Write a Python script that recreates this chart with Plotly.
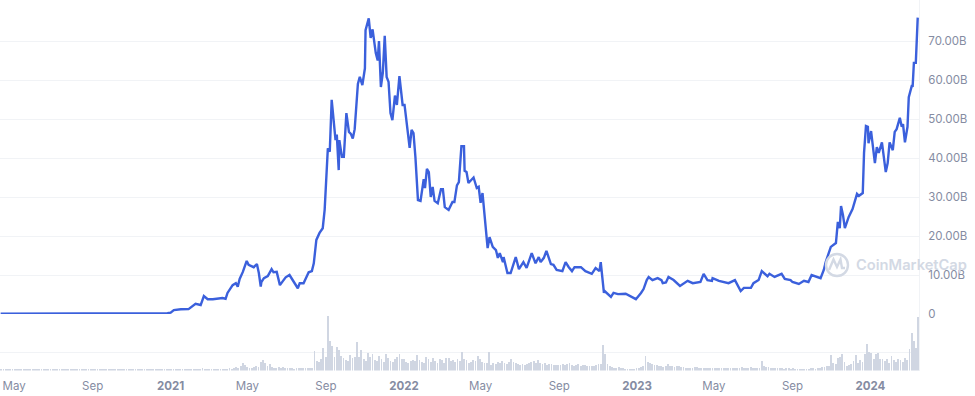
import pandas as pd
import plotly.graph_objects as go

BASE_DATE = "2021-01-01"

early_days = [-266, -220, -180, -140, -110, -80, -50, -20, -5]
early_vals = [0.10, 0.10, 0.12, 0.20, 0.22, 0.18, 0.16, 0.15, 0.18]

rise_days = [0, 5, 16, 28, 39, 47, 52, 58, 66, 81, 86, 89, 97, 102, 105, 108, 113, 119, 122, 130, 135, 138, 141, 142, 146, 152, 158, 161, 166, 171, 175, 180, 186, 192, 199, 202, 208, 216, 221, 224, 228, 233, 238, 241, 244, 246, 249]
rise_vals = [0.35, 1.0, 1.2, 1.25, 2.6, 2.3, 4.6, 3.8, 3.8, 4.1, 3.9, 5.4, 7.4, 7.9, 7.0, 9.0, 10.8, 13.6, 12.6, 12.0, 12.8, 10.5, 7.0, 8.2, 9.2, 9.7, 11.5, 10.7, 10.8, 7.4, 8.3, 9.4, 10.0, 8.3, 6.6, 7.9, 7.9, 10.7, 11.0, 13.0, 19.0, 20.8, 22.0, 26.7, 34.4, 42.5, 41.6]

peak_days = [252, 254, 258, 260, 263, 264, 268, 271, 275, 279, 282, 285, 288, 293, 296, 300, 304, 305, 310, 313, 316, 321, 324, 326, 329, 332, 335, 338, 341, 344, 347, 351, 354, 358, 363, 366, 371, 374, 377, 380, 383, 387]
peak_vals = [54.9, 51.5, 44.6, 46.0, 36.9, 44.6, 40.3, 40.3, 51.5, 46.7, 46.2, 45.0, 47.4, 59.0, 60.8, 58.7, 63.0, 72.8, 75.8, 70.8, 73.0, 66.9, 65.0, 70.0, 58.2, 61.8, 71.3, 60.8, 59.5, 51.5, 49.7, 56.0, 53.6, 61.0, 53.6, 53.6, 47.2, 42.6, 47.2, 46.4, 40.3, 29.2]

fall_days = [391, 396, 398, 401, 404, 407, 410, 413, 418, 423, 426, 429, 435, 441, 444, 448, 451, 455, 459, 460, 463, 466, 474, 479, 482, 485, 488, 491, 496, 499, 504, 509, 512, 515, 520, 521, 527, 532, 540, 545, 552, 557, 565, 571, 576, 579, 584, 588, 595, 599, 604, 613, 618, 623, 628, 632, 642, 649, 659, 665, 671, 673, 676, 678, 679]
fall_vals = [29.0, 34.6, 32.3, 37.2, 36.4, 30.0, 32.6, 29.0, 28.4, 32.0, 32.0, 27.4, 26.7, 28.7, 28.7, 33.0, 33.8, 43.0, 43.0, 36.7, 36.4, 33.6, 35.0, 32.3, 32.6, 28.5, 31.0, 25.9, 16.9, 19.7, 17.2, 16.4, 14.4, 15.6, 13.3, 14.6, 10.5, 10.5, 14.6, 11.5, 13.3, 11.8, 15.6, 13.0, 14.6, 13.3, 14.4, 16.2, 12.8, 12.6, 11.3, 11.0, 13.3, 12.0, 11.0, 12.0, 12.0, 11.0, 10.3, 11.8, 11.0, 13.3, 9.0, 5.4, 5.9]

low_days = [689, 693, 700, 712, 720, 728, 736, 740, 745, 748, 754, 762, 768, 770, 775, 779, 787, 797, 809, 817, 829, 834, 840, 847, 848, 858, 873, 883, 892, 897, 908, 912, 920, 925, 934, 937, 945, 956, 961, 970, 973, 983, 991, 998, 1003, 1013, 1017, 1022]
low_vals = [4.4, 5.4, 5.1, 5.2, 4.4, 3.8, 5.4, 6.4, 8.7, 9.5, 8.7, 9.2, 8.7, 7.9, 8.1, 9.5, 8.7, 7.2, 8.5, 7.9, 8.2, 10.3, 8.7, 8.5, 9.2, 8.5, 7.9, 8.7, 5.9, 6.7, 6.7, 7.9, 8.7, 11.0, 9.7, 10.3, 9.5, 10.3, 9.0, 8.7, 8.2, 7.7, 8.5, 8.2, 10.0, 9.5, 9.2, 11.3]

recent_days = [1025, 1033, 1041, 1044, 1047, 1049, 1052, 1055, 1061, 1067, 1074, 1077, 1083, 1085, 1088, 1091, 1092, 1096, 1099, 1102, 1105, 1108, 1113, 1116, 1119, 1122, 1125, 1130, 1133, 1136, 1141, 1144, 1146, 1149, 1153, 1155, 1160, 1161, 1163, 1166, 1167, 1169]
recent_vals = [13.3, 17.2, 18.2, 23.6, 22.0, 27.7, 25.4, 22.0, 24.9, 26.9, 30.8, 30.3, 31.0, 41.3, 48.2, 48.0, 43.8, 46.9, 42.0, 38.7, 42.8, 41.3, 44.0, 39.5, 36.4, 38.7, 44.0, 42.0, 46.7, 47.4, 50.3, 48.0, 48.7, 44.0, 48.0, 55.6, 58.7, 58.2, 64.4, 64.4, 68.5, 76.0]

volume_start = "2020-04-11"
volume = [
    0.7, 0.7, 0.8, 0.7, 0.7, 0.6, 0.7, 0.7, 0.8, 0.7, 0.7, 0.7, 0.6, 0.7, 0.7, 0.8, 0.7, 0.7, 0.7, 0.7,
    0.7, 0.8, 0.7, 0.7, 0.7, 0.9, 0.7, 0.7, 0.7, 0.8, 0.7, 0.7, 0.7, 0.8, 0.7, 0.7, 0.7, 0.7, 0.8, 0.7,
    0.7, 0.7, 0.7, 0.8, 0.7, 0.7, 0.7, 0.7, 0.8, 0.7, 0.7, 0.7, 0.6, 0.7, 0.7, 0.8, 0.7, 0.7, 0.7, 0.7,
    0.7, 0.7, 0.8, 0.7, 0.7, 0.7, 0.7, 0.8, 0.7, 0.7, 0.7, 0.8, 0.7, 0.7, 0.8, 0.7, 0.8, 0.7, 0.8, 0.9,
    0.8, 1.0, 0.9, 1.0, 0.9, 1.0, 1.1, 1.0, 1.2, 1.5, 2.5, 2.0, 1.5, 1.2, 1.2, 1.0, 1.0, 1.3, 1.2, 1.4,
    2, 2, 3, 2, 3, 4, 3, 5, 8, 6, 4, 3, 3, 4, 5, 4, 9, 11, 8, 5,
    7, 4, 3, 3, 4, 3, 4, 3, 3, 3, 3, 2, 3, 3, 3, 3, 3, 3, 3, 3,
    20, 10, 9, 12, 23, 14, 55, 30, 25, 14, 24, 21, 15, 13, 11, 10, 16, 13, 14, 29,
    14, 21, 12, 10, 18, 14, 17, 11, 10, 15, 12, 9, 17, 13, 10, 9, 12, 14, 17, 12,
    12, 9, 8, 10, 11, 10, 16, 11, 9, 8, 14, 12, 9, 13, 10, 8, 12, 11, 8, 13,
    13, 10, 11, 9, 12, 10, 19, 12, 11, 8, 9, 11, 10, 15, 12, 9, 8, 8, 19, 6,
    8, 7, 9, 8, 10, 8, 7, 9, 12, 9, 8, 7, 6, 7, 6, 7, 8, 9, 10, 8,
    11, 8, 7, 8, 6, 7, 7, 6, 6, 6, 6, 7, 6, 7, 8, 6, 5, 6, 7, 5,
    6, 6, 5, 5, 5, 5, 6, 7, 7, 26, 17, 7, 5, 4, 3, 3, 4, 3, 3, 2,
    2, 2, 2, 2, 3, 3, 4, 5, 15, 9, 8, 7, 6, 6, 5, 5, 4, 5, 7, 5,
    5, 4, 5, 5, 4, 4, 3, 3, 3, 3, 4, 4, 3, 3, 3, 3, 3, 3, 3, 3,
    3, 3, 3, 3, 3, 3, 3, 3, 3, 3, 3, 4, 3, 3, 3, 4, 3, 3, 3, 3,
    10, 5, 4, 4, 3, 3, 3, 3, 3, 3, 2, 3, 3, 2, 3, 2, 2, 2, 2, 2,
    2, 2, 3, 3, 2, 3, 3, 4, 4, 5, 5, 16, 8, 7, 13, 14, 17, 9, 5, 6,
    7, 10, 16, 8, 11, 9, 17, 27, 19, 18, 12, 17, 18, 12, 12, 10, 12, 8, 15, 11,
    9, 12, 11, 9, 13, 11, 22, 38, 30, 23, 54,
]

price_ticks = [0, 10, 20, 30, 40, 50, 60, 70]
price_labels = ["0", "10.00B", "20.00B", "30.00B", "40.00B", "50.00B", "60.00B", "70.00B"]
date_ticks = ["2020-05-01", "2020-09-01", "2021-01-01", "2021-05-01", "2021-09-01", "2022-01-01",
              "2022-05-01", "2022-09-01", "2023-01-01", "2023-05-01", "2023-09-01", "2024-01-01"]
date_labels = ["May", "Sep", "<b>2021</b>", "May", "Sep", "<b>2022</b>",
               "May", "Sep", "<b>2023</b>", "May", "Sep", "<b>2024</b>"]

W, H = 975, 396
PLOT_RIGHT, ZERO_Y, VOL_BOTTOM = 919, 314, 370.5
BLUE, BAR, GRID, TEXT, MARK = "#3b60dc", "#d0d6e2", "#f1f3f6", "#858ca2", "#d3d9e4"
FONT = "Inter, 'Noto Sans', sans-serif"

days = early_days + rise_days + peak_days + fall_days + low_days + recent_days
vals = early_vals + rise_vals + peak_vals + fall_vals + low_vals + recent_vals
dates = pd.Timestamp(BASE_DATE) + pd.to_timedelta(days, unit="D")
vol_dates = pd.date_range(volume_start, periods=len(volume), freq="84h")

fig = go.Figure()
fig.add_trace(go.Bar(x=vol_dates, y=volume, yaxis="y2", marker=dict(color=BAR, line_width=0),
                     width=1.3 * 86400000, hoverinfo="skip"))
fig.add_trace(go.Scatter(x=dates, y=vals, mode="lines", line=dict(color=BLUE, width=2.4), yaxis="y"))


def px(x):
    return x / W


def py(y):
    return 1 - y / H


logo_cx, logo_cy, logo_r = 837, 265, 11
m_pts = [(829, 270), (833.5, 259.5), (837, 267), (840.5, 259.5), (842, 268), (845, 268)]
m_path = "M " + " L ".join(f"{px(a):.5f},{py(b):.5f}" for a, b in m_pts)
shapes = [
    dict(type="circle", xref="paper", yref="paper", x0=px(logo_cx - logo_r), x1=px(logo_cx + logo_r),
         y0=py(logo_cy + logo_r), y1=py(logo_cy - logo_r), line=dict(color=MARK, width=2.4)),
    dict(type="path", xref="paper", yref="paper", path=m_path, line=dict(color=MARK, width=2.4)),
]

fig.update_layout(
    width=W, height=H, margin=dict(l=0, r=0, t=0, b=0), paper_bgcolor="white", plot_bgcolor="white",
    showlegend=False, bargap=0, font=dict(family=FONT, size=11.5, color=TEXT), shapes=shapes,
    xaxis=dict(domain=[0, PLOT_RIGHT / W], anchor="y2", type="date", range=["2020-04-09", "2024-03-17"],
               tickmode="array", tickvals=date_ticks, ticktext=date_labels, showgrid=False, zeroline=False,
               ticks="outside", ticklen=5, tickcolor="rgba(0,0,0,0)", showline=False, automargin=False,
               tickfont=dict(family=FONT, size=11.5, color=TEXT)),
    yaxis=dict(domain=[py(ZERO_Y), 1], range=[0, ZERO_Y / 3.9], anchor="x", side="right", automargin=False,
               tickmode="array", tickvals=price_ticks, ticktext=price_labels, gridcolor=GRID, gridwidth=1,
               zeroline=False, showline=True, linecolor=GRID, ticks="outside", ticklen=6,
               tickcolor="rgba(0,0,0,0)", tickfont=dict(family=FONT, size=11.5, color=TEXT)),
    yaxis2=dict(domain=[py(VOL_BOTTOM), py(ZERO_Y)], range=[0, 56.5], anchor="x", side="right", automargin=False,
                tickmode="array", tickvals=[18.5], ticktext=[""], gridcolor=GRID, gridwidth=1,
                zeroline=False, showline=True, linecolor=GRID, ticks=""),
    annotations=[dict(text="CoinMarketCap", xref="paper", yref="paper", x=px(854), y=py(265),
                      xanchor="left", yanchor="middle", showarrow=False,
                      font=dict(family=FONT, size=14.7, color=MARK, weight=600))],
)

fig.write_html("out.html", config={"displayModeBar": False},
               post_script="document.body.style.margin='0';document.documentElement.style.overflow='hidden';")
